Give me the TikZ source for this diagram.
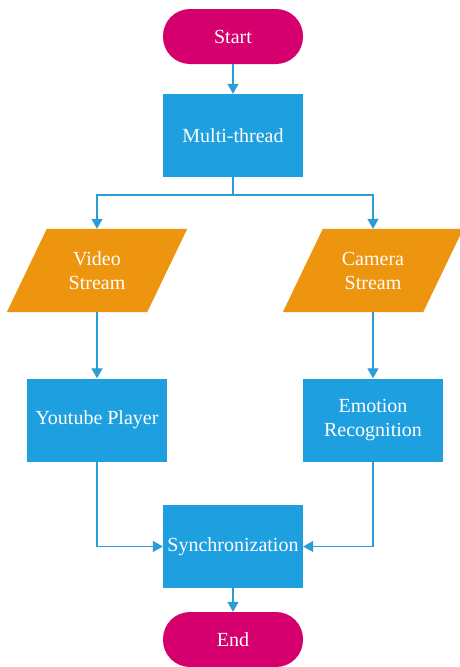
\documentclass[tikz,border=0pt]{standalone}
\usepackage{fontspec}
\setmainfont{Liberation Serif}
\newfontfamily\lserif{Liberation Serif}
\usetikzlibrary{arrows.meta,calc}
\definecolor{termcol}{HTML}{D5006E}
\definecolor{boxcol}{HTML}{1E9FDF}
\definecolor{iocol}{HTML}{EE950F}
\definecolor{linecol}{HTML}{2A9DD6}
\begin{document}
\begin{tikzpicture}[x=1pt,y=-1pt,
  every node/.style={text=white,font=\lserif\fontsize{20}{24}\selectfont,align=center,inner sep=0pt},
  term/.style={fill=termcol,rounded corners=27pt,minimum width=140pt,minimum height=55pt},
  procbox/.style={fill=boxcol,minimum width=140pt,minimum height=83pt},
  iobase/.style={minimum width=100pt,minimum height=83pt},
  conn/.style={draw=linecol,line width=1.2pt},
  arr/.style={conn,-{Triangle[width=11pt,length=10pt]}}
]
\useasboundingbox (0,0) rectangle (459,667);
\fill[white] (0,0) rectangle (459,667);

\node[term] (start) at (233,36.5) {Start};
\node[procbox] (multi) at (233,135.5) {Multi-thread};
\node[iobase] (video) at (97,270.5) {};
\node[iobase] (camera) at (373,270.5) {};
\fill[iocol] (video.north west) -- ($(video.north east)+(40,0)$) -- (video.south east) -- ($(video.south west)-(40,0)$) -- cycle;
\fill[iocol] (camera.north west) -- ($(camera.north east)+(40,0)$) -- (camera.south east) -- ($(camera.south west)-(40,0)$) -- cycle;
\node at (video.center) {Video\\Stream};
\node at (camera.center) {Camera\\Stream};
\node[procbox] (youtube) at (97,420) {Youtube Player};
\node[procbox] (emotion) at (373,420) {Emotion\\Recognition};
\node[procbox] (sync) at (233,546.5) {Synchronization};
\node[term] (end) at (233,639.5) {End};

\coordinate (split) at (233,195);

\draw[arr] (start) -- (multi);
\draw[conn] (multi.south) -- (split);
\draw[arr] (split) -| (video.north);
\draw[arr] (split) -| (camera.north);
\draw[arr] (video.south) -- (youtube.north);
\draw[arr] (camera.south) -- (emotion.north);
\draw[arr] (youtube.south) |- (sync.west);
\draw[arr] (emotion.south) |- (sync.east);
\draw[arr] (sync) -- (end);
\end{tikzpicture}
\end{document}
